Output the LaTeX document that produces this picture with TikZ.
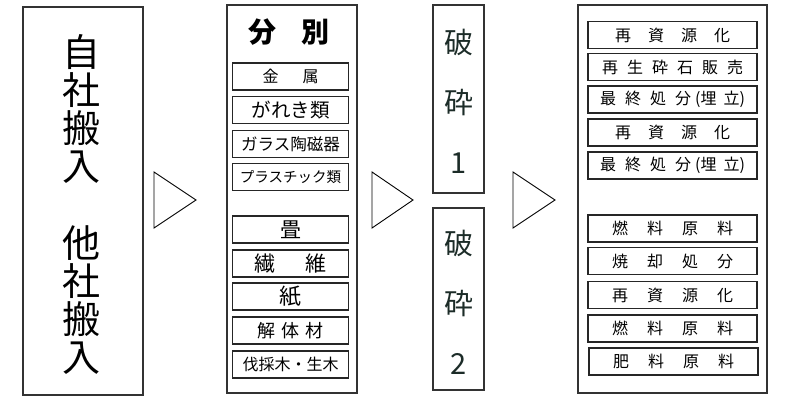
\documentclass[tikz,border=0pt]{standalone}
\usepackage{fontspec}
\setmainfont{Noto Sans CJK JP}
\begin{document}
\begin{tikzpicture}[x=1pt,y=-1pt,
  outer/.style={draw=black!80,line width=1.3pt,inner sep=0pt},
  item/.style={draw=black!85,line width=1.6pt,minimum height=27pt,inner sep=0pt},
  sortitem/.style={item,minimum width=116pt},
  resitem/.style={item,minimum width=169pt,font=\fontsize{16}{16}\selectfont},
  tri/.style={draw=black,line width=0.9pt,fill=white},
  txt/.style={inner sep=0pt,align=center}]
\useasboundingbox (0,0) rectangle (800,400);
% outer boxes
\node[outer,minimum width=120pt,minimum height=388pt] (src) at (83,201) {};
\node[outer,minimum width=130pt,minimum height=388pt] (sort) at (292,199) {};
\node[outer,minimum width=51pt,minimum height=188pt] (c1) at (458.5,99) {};
\node[outer,minimum width=51pt,minimum height=182pt] (c2) at (458.5,299) {};
\node[outer,minimum width=189pt,minimum height=388pt] (res) at (672.5,199) {};
% source text
\node[txt,font=\fontsize{38}{38.2}\selectfont] (srct) at (81,204.5)
  {自\\社\\搬\\入\\[38.2pt]他\\社\\搬\\入};
% triangles
\draw[tri] (154,172) -- (196,200) -- (154,228) -- cycle;
\draw[tri] (372,172) -- (413,200) -- (372,228) -- cycle;
\draw[tri] (513,172) -- (555,200) -- (513,228) -- cycle;
% sort
\node[txt,font=\fontsize{28}{28}\bfseries] (sortt) at (289,32) {分\hspace{26pt}別};
\node[sortitem,font=\fontsize{16}{16}\selectfont] (s1) at (290.5,76.5) {金\hspace{24pt}属};
\node[sortitem,font=\fontsize{19.5}{19}\selectfont] (s2) at (290.5,110) {がれき類};
\node[sortitem,font=\fontsize{16.5}{16}\selectfont] (s3) at (290.5,144) {ガラス陶磁器};
\node[sortitem,font=\fontsize{14.5}{14}\selectfont] (s4) at (290.5,177) {プラスチック類};
\node[sortitem,font=\fontsize{21}{20}\selectfont] (s5) at (290.5,229.5) {畳};
\node[sortitem,font=\fontsize{21}{20}\selectfont] (s6) at (290.5,263.5) {繊\hspace{30pt}維};
\node[sortitem,font=\fontsize{22}{20}\selectfont] (s7) at (290.5,296.5) {紙};
\node[sortitem,font=\fontsize{18}{18}\selectfont] (s8) at (290.5,330.5) {解\hspace{6pt}体\hspace{6pt}材};
\node[sortitem,font=\fontsize{16}{16}\selectfont] (s9) at (290.5,364.5) {伐採木・生木};
% crush
\node[txt,font=\fontsize{29}{60}\selectfont,text={rgb,255:red,28;green,44;blue,40}] (c1t) at (458.5,101) {破\\砕\\1};
\node[txt,font=\fontsize{29}{60}\selectfont,text={rgb,255:red,28;green,44;blue,40}] (c2t) at (458.5,302) {破\\砕\\2};
% results
\node[resitem] (r1) at (672.5,35) {再\hspace{17pt}資\hspace{17pt}源\hspace{17pt}化};
\node[resitem] (r2) at (672.5,67) {再\hspace{9pt}生\hspace{9pt}砕\hspace{9pt}石\hspace{9pt}販\hspace{9pt}売};
\node[resitem] (r3) at (672.5,99.5) {最\hspace{9pt}終\hspace{9pt}処\hspace{9pt}分\hspace{4pt}(埋\hspace{7pt}立)};
\node[resitem] (r4) at (672.5,132.5) {再\hspace{17pt}資\hspace{17pt}源\hspace{17pt}化};
\node[resitem] (r5) at (672.5,165.5) {最\hspace{9pt}終\hspace{9pt}処\hspace{9pt}分\hspace{4pt}(埋\hspace{7pt}立)};
\node[resitem] (r6) at (672.5,228.5) {燃\hspace{19pt}料\hspace{19pt}原\hspace{19pt}料};
\node[resitem] (r7) at (672.5,261) {焼\hspace{19pt}却\hspace{19pt}処\hspace{19pt}分};
\node[resitem] (r8) at (672.5,295) {再\hspace{19pt}資\hspace{19pt}源\hspace{19pt}化};
\node[resitem] (r9) at (672.5,328.5) {燃\hspace{19pt}料\hspace{19pt}原\hspace{19pt}料};
\node[resitem] (r10) at (673.5,361.5) {肥\hspace{19pt}料\hspace{19pt}原\hspace{19pt}料};
\end{tikzpicture}
\end{document}
